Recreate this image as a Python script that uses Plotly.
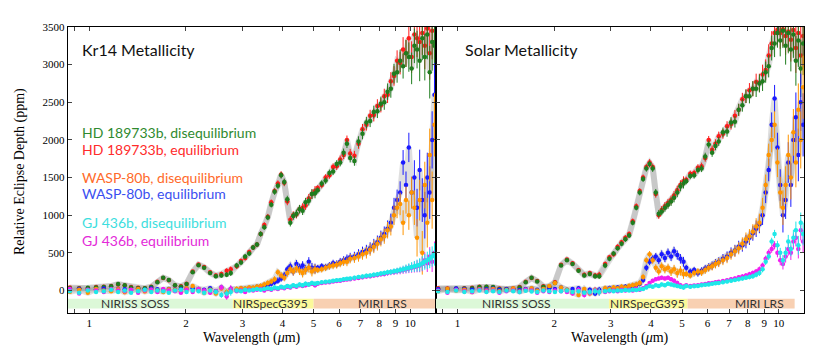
import math

import plotly.graph_objects as go
from plotly.subplots import make_subplots

# wavelength grid (micron), one block per instrument
wl_niriss = [0.87, 0.93, 0.99, 1.05, 1.11, 1.17, 1.23, 1.29, 1.35, 1.42, 1.49, 1.56, 1.63,
             1.70, 1.77, 1.85, 1.93, 2.01, 2.10, 2.19, 2.28, 2.38, 2.48, 2.58, 2.68, 2.76]
wl_nirspec = [2.88, 2.97, 3.06, 3.15, 3.24, 3.33, 3.42, 3.51, 3.60, 3.69, 3.78, 3.87,
              3.96, 4.05, 4.14, 4.23, 4.32, 4.42, 4.52, 4.62, 4.72, 4.83, 4.94, 5.05]
wl_miri = [5.15, 5.3, 5.45, 5.6, 5.75, 5.9, 6.05, 6.2, 6.35, 6.5, 6.7, 6.9, 7.1, 7.3, 7.5,
           7.7, 7.9, 8.1, 8.3, 8.5, 8.7, 8.9, 9.1, 9.3, 9.5, 9.7, 9.9, 10.1, 10.3, 10.5,
           10.7, 10.9, 11.1, 11.3, 11.5, 11.7, 11.9]
wavelength = wl_niriss + wl_nirspec + wl_miri

# eclipse depths (ppm), Kr14 metallicity
kr14_hd_diseq = [30, 25, 35, 40, 45, 55, 85, 70, 40, 30, 30, 45, 110, 170, 140, 70, 50, 85, 240, 335, 300, 230, 190, 200, 210, 230,
                 330, 370, 450, 490, 570, 610, 750, 840, 970, 1140, 1310, 1390, 1530, 1440, 1210, 900, 990, 1020, 1080, 1060, 1170, 1190, 1280, 1290,
                 1330, 1420, 1460, 1560, 1580, 1680, 1700, 1830, 1950, 1760, 1720, 1980, 2080, 2230, 2250, 2370, 2380, 2480, 2500, 2640,
                 2680, 2880, 2900, 3050, 2980, 3150, 3100, 2950, 3250, 3200, 3050, 3350, 3100, 3400, 2900, 3300, 3250]
kr14_hd_eq = [40, 30, 30, 45, 50, 60, 80, 65, 45, 35, 30, 50, 115, 165, 135, 65, 55, 90, 250, 345, 310, 240, 200, 220, 260, 280,
              320, 390, 430, 510, 570, 610, 750, 870, 980, 1170, 1320, 1420, 1540, 1430, 1180, 940, 1000, 1010, 1080, 1100, 1130, 1220, 1280, 1320,
              1360, 1400, 1500, 1530, 1640, 1650, 1740, 1800, 2000, 1820, 1790, 1950, 2140, 2200, 2320, 2330, 2450, 2460, 2580, 2600,
              2780, 2850, 3050, 3020, 3200, 3150, 3350, 3100, 3400, 3350, 3300, 3420, 3250, 3480, 3150, 3450, 3300]
kr14_wasp_diseq = [-20, 10, -30, 20, 0, -10, 15, -25, 5, 20, -15, 10, 0, -20, 15, 5, -10, 30, 60, 20, -30, 10, -40, 25, -20, 10,
                   20, 30, 25, 40, 35, 50, 60, 80, 100, 120, 150, 240, 200, 170, 230, 280, 250, 290, 260, 230, 270, 300, 250, 280,
                   270, 280, 300, 320, 330, 340, 360, 380, 380, 420, 430, 450, 480, 500, 540, 580, 620, 680, 720, 800,
                   850, 1000, 1100, 1150, 900, 1200, 1000, 1300, 1100, 700, 1200, 500, 1400, 900, 1800, 1200, 2200]
kr14_wasp_eq = [10, 20, 5, 15, 25, 10, 20, 15, 5, 20, 10, 25, 15, 5, 20, 10, 15, 25, 30, 20, 10, 30, -10, 40, -30, 20,
                10, 25, 20, 30, 30, 45, 50, 60, 70, 90, 110, 130, 160, 200, 280, 320, 250, 350, 300, 330, 280, 380, 300, 290,
                300, 320, 310, 330, 360, 350, 380, 400, 420, 440, 450, 480, 510, 530, 560, 600, 640, 700, 750, 820,
                900, 1100, 1200, 1300, 1700, 1400, 1900, 1300, 1500, 1100, 1600, 1200, 1000, 1500, 1300, 2000, 2600]
kr14_gj_diseq = [-10, -30, 0, -20, -10, 10, -20, 0, -30, -10, 10, -20, 0, -10, -30, 0, 10, -20, 0, -10, -30, 0, -20, -60, -40, -20,
                 0, -10, 10, 0, 10, 20, 10, 20, 30, 20, 40, 30, 50, 40, 60, 50, 70, 60, 80, 70, 90, 80, 100, 90,
                 100, 110, 115, 120, 130, 135, 140, 150, 155, 160, 170, 180, 185, 195, 200, 210, 215, 225, 230, 240,
                 245, 255, 260, 270, 280, 290, 300, 310, 320, 330, 340, 360, 380, 400, 420, 450, 480]
kr14_gj_eq = [20, -40, 10, 0, -20, 20, 0, -10, 10, -30, 0, 10, -20, 20, 0, -10, -30, 10, -20, 20, 0, -30, -10, 40, -80, 20,
              -10, 0, -20, 10, 0, 10, 20, 0, 20, 10, 30, 20, 40, 30, 50, 40, 60, 50, 70, 60, 70, 80, 90, 70,
              90, 100, 105, 110, 120, 125, 130, 140, 145, 150, 160, 165, 175, 185, 190, 200, 205, 215, 220, 230,
              240, 245, 255, 260, 270, 280, 290, 300, 310, 320, 330, 350, 400, 360, 450, 380, 500]

# eclipse depths (ppm), solar metallicity
solar_hd_diseq = [20, 20, 25, 25, 30, 45, 50, 45, 20, 15, 20, 40, 110, 170, 120, 50, 45, 100, 330, 400, 350, 260, 200, 220, 190, 190,
                  330, 420, 490, 560, 620, 680, 730, 900, 1100, 1300, 1480, 1620, 1680, 1620, 1300, 1020, 1050, 1100, 1140, 1180, 1230, 1300, 1380, 1420,
                  1450, 1520, 1530, 1600, 1620, 1780, 1940, 1830, 1920, 1980, 2100, 2110, 2230, 2240, 2400, 2460, 2580, 2580, 2680, 2680,
                  2750, 2780, 2900, 2980, 3220, 3280, 3420, 3320, 3450, 3250, 3420, 3200, 3400, 3050, 3320, 2950, 3280]
solar_hd_eq = [30, 25, 20, 30, 35, 50, 45, 40, 25, 20, 25, 45, 115, 165, 125, 55, 50, 110, 340, 410, 360, 270, 210, 230, 200, 210,
               350, 440, 480, 580, 640, 700, 750, 920, 1120, 1320, 1500, 1640, 1700, 1640, 1280, 1000, 1070, 1120, 1160, 1200, 1260, 1330, 1400, 1450,
               1470, 1550, 1560, 1630, 1650, 1760, 2000, 1870, 1950, 2050, 2080, 2180, 2210, 2320, 2400, 2540, 2580, 2660, 2680, 2770,
               2760, 2870, 2930, 3120, 3280, 3420, 3460, 3420, 3470, 3380, 3440, 3330, 3460, 3220, 3420, 3120, 3380]
solar_wasp_diseq = [-10, 20, 0, 10, -20, 15, 0, 20, -10, 5, 25, -15, 10, 30, 0, 20, 60, 100, 40, 10, -30, -60, 20, -40, 10, -20,
                    30, 20, 40, 30, 50, 40, 60, 70, 80, 100, 180, 400, 480, 400, 300, 250, 320, 280, 300, 250, 280, 230, 260, 220,
                    220, 200, 230, 250, 240, 270, 300, 320, 350, 370, 400, 430, 480, 520, 560, 620, 680, 720, 780, 850,
                    900, 1100, 1400, 1800, 2000, 2200, 1700, 1300, 1100, 1400, 1800, 1500, 2100, 1700, 2400, 2000, 2700]
solar_wasp_eq = [15, 10, 25, 20, 10, 20, 15, 25, 10, 15, 20, 5, 20, 25, 10, 15, 30, 20, 40, 10, 20, 30, -20, 10, -40, 10,
                 20, 30, 25, 40, 35, 50, 45, 60, 70, 90, 140, 300, 380, 420, 450, 400, 480, 430, 500, 450, 520, 470, 420, 380,
                 300, 250, 270, 230, 260, 290, 310, 330, 360, 380, 420, 450, 500, 530, 580, 600, 650, 700, 760, 820,
                 880, 1000, 1300, 1600, 2200, 2550, 1900, 1400, 1000, 1200, 1700, 1400, 2000, 2300, 1800, 2500, 2200]
solar_gj_diseq = [-10, -20, 0, -20, -10, 0, -20, -10, -20, 0, -10, -20, -5, -15, -20, 0, -10, -20, -10, 0, -20, -10, -30, -20, -10, -20,
                  -10, 0, -10, 0, -5, 5, 0, 10, 5, 15, 20, 40, 60, 50, 70, 60, 80, 70, 90, 80, 70, 60, 50, 40,
                  60, 50, 55, 60, 70, 75, 80, 90, 95, 100, 110, 120, 130, 140, 150, 160, 170, 180, 190, 210,
                  230, 280, 380, 450, 650, 750, 600, 500, 400, 500, 650, 550, 700, 800, 600, 900, 750]
solar_gj_eq = [0, -30, 10, -10, -20, 10, -10, 0, -30, -10, 0, -20, 10, 0, -30, -10, -20, 0, -10, -20, -40, 10, -60, -30, 0, -20,
               -20, -10, 0, -10, 10, 0, 10, 0, 20, 10, 30, 60, 100, 130, 150, 160, 170, 160, 170, 150, 130, 100, 70, 50,
               70, 60, 65, 70, 80, 85, 95, 100, 110, 115, 125, 135, 150, 160, 175, 185, 200, 215, 230, 250,
               280, 330, 420, 500, 550, 600, 500, 400, 350, 450, 550, 500, 650, 700, 550, 800, 650]

# 1-sigma uncertainties (ppm)
err_hot = [12, 12, 14, 14, 15, 15, 16, 16, 16, 17, 17, 18, 18, 18, 19, 19, 20, 20, 22, 22, 24, 26, 28, 30, 34, 38,
           35, 33, 32, 32, 33, 34, 35, 36, 37, 38, 40, 42, 44, 46, 48, 50, 52, 54, 56, 58, 60, 62, 64, 66,
           40, 42, 44, 46, 48, 50, 52, 55, 58, 60, 64, 68, 72, 76, 80, 85, 90, 95, 100, 110,
           120, 130, 140, 150, 165, 180, 195, 210, 230, 250, 270, 290, 310, 330, 350, 380, 420]
err_gj = [15, 15, 16, 16, 16, 17, 17, 17, 18, 18, 18, 19, 19, 20, 20, 21, 22, 23, 24, 26, 28, 30, 34, 38, 44, 50,
          22, 21, 21, 21, 22, 22, 22, 23, 23, 23, 24, 24, 24, 25, 25, 26, 26, 27, 27, 28, 28, 29, 30, 30,
          20, 20, 21, 21, 22, 22, 23, 23, 24, 24, 25, 26, 27, 28, 29, 30, 31, 32, 34, 36,
          38, 40, 43, 46, 50, 55, 60, 66, 72, 80, 88, 96, 105, 115, 125, 135, 150]

series_names = ["HD 189733b, disequilibrium", "HD 189733b, equilibrium",
                "WASP-80b, disequilibrium", "WASP-80b, equilibrium",
                "GJ 436b, disequilibrium", "GJ 436b, equilibrium"]

panel_titles = ["Kr14 Metallicity", "Solar Metallicity"]

# instrument bands (micron) per panel
band_names = ["NIRISS SOSS", "NIRSpecG395", "MIRI LRS"]
kr14_band_start = [0.80, 2.80, 5.00]
kr14_band_end = [2.80, 5.00, 12.5]
kr14_band_label = [1.39, 3.68, 8.2]
solar_band_start = [0.80, 2.96, 5.20]
solar_band_end = [2.96, 5.20, 11.2]
solar_band_label = [1.53, 3.91, 8.72]

y_ticks = [0, 500, 1000, 1500, 2000, 2500, 3000, 3500]
x_ticks = [0.9, 1, 2, 3, 4, 5, 6, 7, 8, 9, 10]
x_ticktext = ["", "1", "2", "3", "4", "5", "6", "7", "8", "9", "10"]

for arr in [kr14_hd_diseq, kr14_hd_eq, kr14_wasp_diseq, kr14_wasp_eq, kr14_gj_diseq, kr14_gj_eq,
            solar_hd_diseq, solar_hd_eq, solar_wasp_diseq, solar_wasp_eq, solar_gj_diseq, solar_gj_eq,
            err_hot, err_gj]:
    assert len(arr) == len(wavelength), len(arr)

marker_colors = ["#1f7d1f", "#ff1a1a", "#ff9500", "#1a1aff", "#1ee8e8", "#f01ef0"]
text_colors = ["#2f8a2f", "#ff2b2b", "#ff6a2a", "#3a4ff0", "#3ddede", "#e32ad8"]
band_colors = ["#dcf8d8", "#fbf99a", "#f8d0b2"]
serif = "Liberation Serif"
sans = "Lato"

panels = [
    {"data": [kr14_hd_diseq, kr14_hd_eq, kr14_wasp_diseq, kr14_wasp_eq, kr14_gj_diseq, kr14_gj_eq],
     "bands": (kr14_band_start, kr14_band_end, kr14_band_label)},
    {"data": [solar_hd_diseq, solar_hd_eq, solar_wasp_diseq, solar_wasp_eq, solar_gj_diseq, solar_gj_eq],
     "bands": (solar_band_start, solar_band_end, solar_band_label)},
]

fig = make_subplots(rows=1, cols=2, shared_yaxes=True, horizontal_spacing=0)

# draw order: red under green, blue under orange, magenta under cyan
draw_order = [1, 0, 3, 2, 5, 4]

for col, panel in enumerate(panels, 1):
    starts, ends, label_pos = panel["bands"]
    for name, a, b, c in zip(band_names, starts, ends, band_colors):
        fig.add_trace(go.Scatter(x=[a, b, b, a, a], y=[-240, -240, -110, -110, -240],
                                 mode="lines", fill="toself", fillcolor=c, line={"width": 0},
                                 hoverinfo="skip", showlegend=False), row=1, col=col)
    # model spectra shown as a light grey band behind the hot planets
    for i in [0, 1, 2, 3]:
        fig.add_trace(go.Scatter(x=wavelength, y=panel["data"][i], mode="lines",
                                 line={"color": "rgba(150,150,150,0.3)", "width": 6},
                                 hoverinfo="skip", showlegend=False), row=1, col=col)
    for i in draw_order:
        err = err_gj if i >= 4 else err_hot
        fig.add_trace(go.Scatter(x=wavelength, y=panel["data"][i], mode="markers",
                                 name=series_names[i],
                                 marker={"color": marker_colors[i], "size": 4.5},
                                 error_y={"type": "data", "array": err, "thickness": 1,
                                          "width": 0, "color": marker_colors[i]},
                                 showlegend=False), row=1, col=col)
    xref = "x" if col == 1 else "x2"
    for name, pos in zip(band_names, label_pos):
        fig.add_annotation(x=math.log10(pos), y=-175, xref=xref, yref="y", text=name,
                           showarrow=False, font={"family": sans, "size": 12, "color": "#333333"})

# axes
xdomains = [[0.0816, 0.5249], [0.5253, 0.969]]
for col in [1, 2]:
    fig.update_xaxes(type="log", range=[math.log10(0.857), math.log10(12.0)], domain=xdomains[col - 1],
                     tickvals=x_ticks, ticktext=x_ticktext, ticks="inside", ticklen=4,
                     showline=True, linecolor="black", linewidth=1.2, mirror="allticks",
                     showgrid=False, zeroline=False, automargin=False,
                     tickfont={"family": serif, "size": 11, "color": "black"}, row=1, col=col)
fig.update_yaxes(range=[-300, 3500], domain=[0.1232, 0.9244], tickvals=y_ticks, ticks="inside",
                 ticklen=4, showline=True, linecolor="black", linewidth=1.2, mirror="allticks",
                 showgrid=False, zeroline=False, automargin=False,
                 tickfont={"family": serif, "size": 11, "color": "black"})
fig.update_yaxes(showticklabels=False, row=1, col=2)

# panel titles and the coloured series labels
title_x = [0.0964, 0.5575]
for t, xx in zip(panel_titles, title_x):
    fig.add_annotation(x=xx, y=1 - 50 / 357, xref="paper", yref="paper", text=t, showarrow=False,
                       xanchor="left", yanchor="middle", font={"family": sans, "size": 16, "color": "#111111"})
label_y = [132, 149, 177, 194, 222, 240]
for name, c, yy in zip(series_names, text_colors, label_y):
    fig.add_annotation(x=0.0964, y=1 - yy / 357, xref="paper", yref="paper", text=name,
                       showarrow=False, xanchor="left", yanchor="middle",
                       font={"family": sans, "size": 14, "color": c})

for xx in [0.3033, 0.747]:
    fig.add_annotation(x=xx, y=1 - 338 / 357, xref="paper", yref="paper", text="Wavelength (<i>μ</i>m)",
                       showarrow=False, xanchor="center", yanchor="middle",
                       font={"family": serif, "size": 14, "color": "black"})
fig.add_annotation(x=20 / 830, y=1 - 172 / 357, xref="paper", yref="paper",
                   text="Relative Eclipse Depth (ppm)", textangle=-90, showarrow=False,
                   xanchor="center", yanchor="middle",
                   font={"family": serif, "size": 14, "color": "black"})

fig.update_layout(width=830, height=357, margin={"l": 0, "r": 0, "t": 0, "b": 0},
                  plot_bgcolor="white", paper_bgcolor="white", showlegend=False)
# drop the page's default body margin so the figure sits at the window's corner
fig.write_html("out.html", config={"displayModeBar": False},
               post_script="document.body.style.margin='0';")
